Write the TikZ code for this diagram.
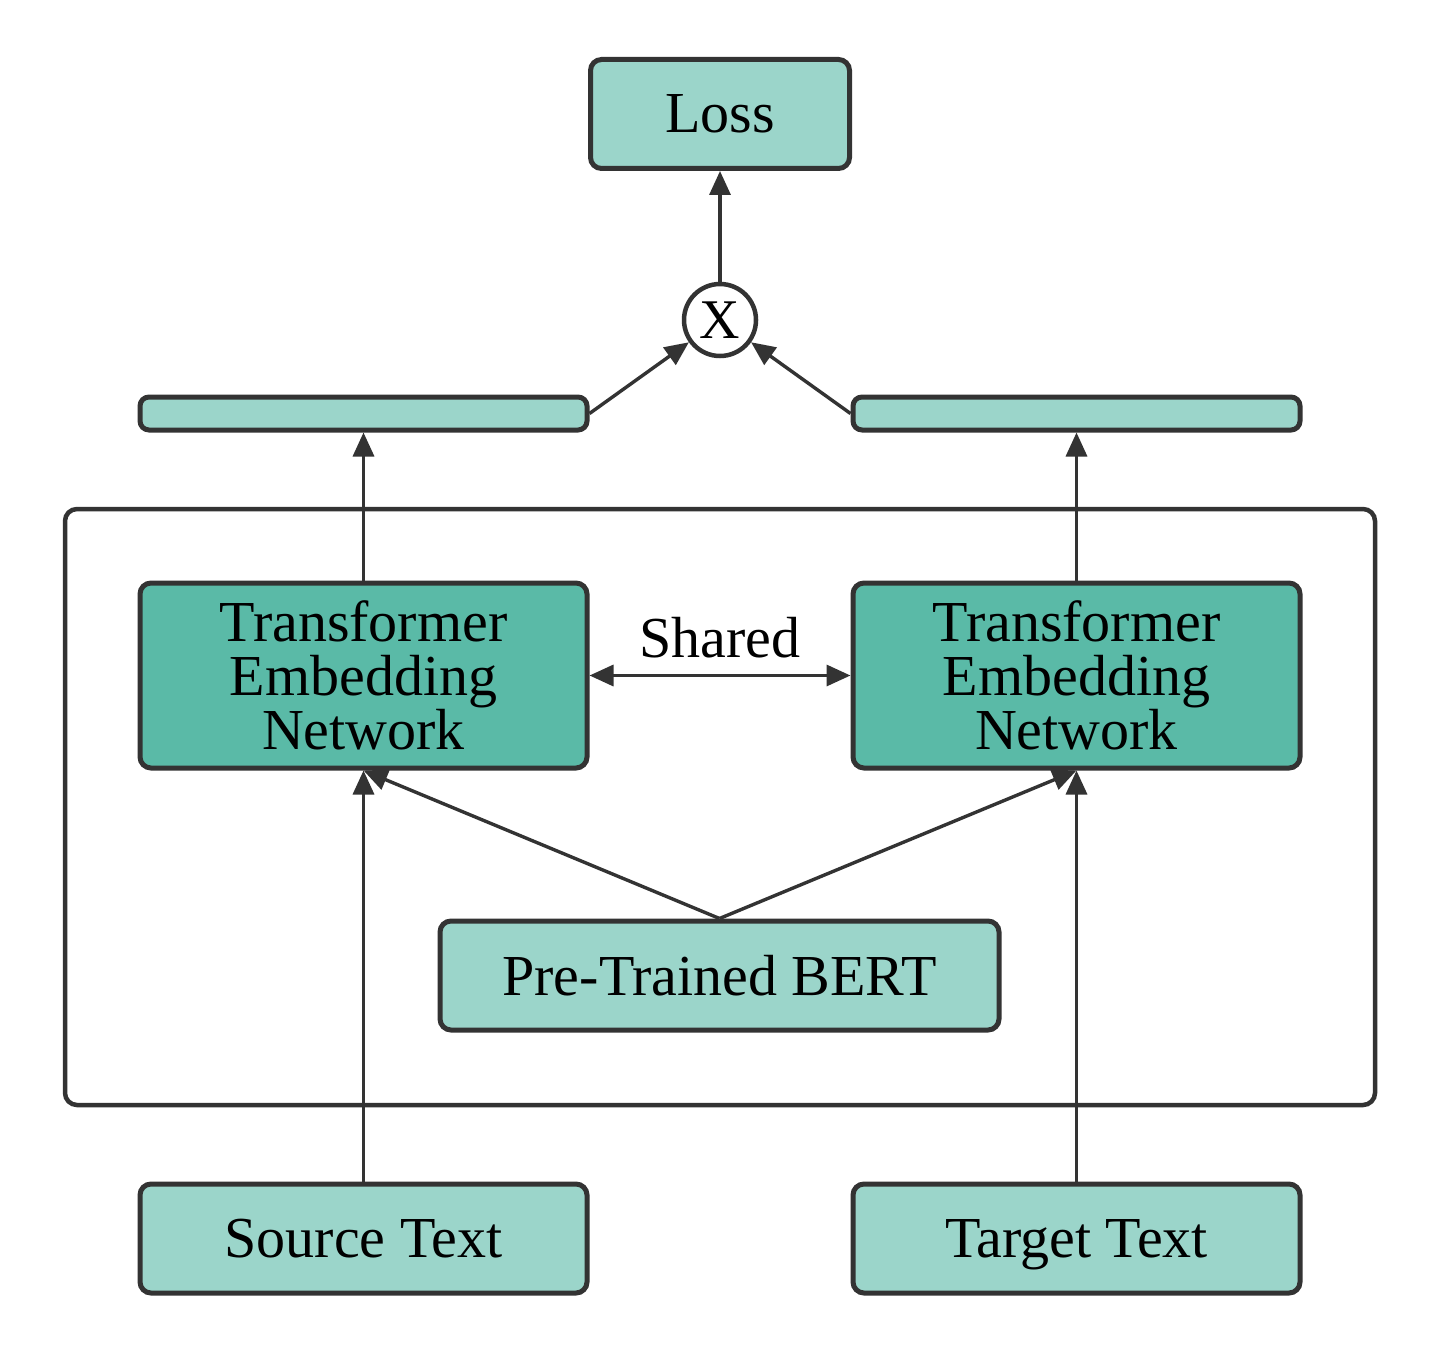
\documentclass[tikz,border=0pt]{standalone}
\usepackage{fontspec}
\setmainfont{Liberation Serif}
\usetikzlibrary{arrows.meta}
\definecolor{lightfill}{HTML}{9BD5CA}
\definecolor{darkfill}{HTML}{5ABAA7}
\definecolor{edge}{HTML}{333333}
\begin{document}
\begin{tikzpicture}[x=1pt,y=-1pt,
  box/.style={draw=edge, line width=5pt, rounded corners=11pt, fill=lightfill,
    inner sep=0pt, align=center, font=\fontsize{58}{54}\selectfont},
  onebox/.style={box, text depth=0pt},
  darkbox/.style={box, fill=darkfill},
  conn/.style={draw=edge, line width=3.4pt, -{Triangle[length=24pt,width=21pt]}},
  dconn/.style={draw=edge, line width=3.4pt, {Triangle[length=24pt,width=21pt]}-{Triangle[length=24pt,width=21pt]}}
]
\useasboundingbox (0,0) rectangle (1437,1356);
\fill[white] (0,0) rectangle (1437,1356);

% container
\node[draw=edge, line width=4.5pt, rounded corners=12pt, minimum width=1310pt, minimum height=596pt, inner sep=0pt] (cont) at (720,807) {};

\node[onebox, minimum width=259pt, minimum height=109pt] (loss) at (720,114) {Loss};
\node[circle, draw=edge, line width=4.5pt, fill=white, minimum size=72pt, inner sep=0pt,
  font=\fontsize{56}{56}\selectfont, text depth=0pt] (x) at (720,320) {X};

\node[box, minimum width=447pt, minimum height=33pt, rounded corners=9pt] (lbar) at (363.5,413.5) {};
\node[box, minimum width=447pt, minimum height=33pt, rounded corners=9pt] (rbar) at (1076.5,413.5) {};

\node[darkbox, minimum width=447pt, minimum height=185pt] (tenl) at (363.5,675.5) {Transformer\\Embedding\\Network};
\node[darkbox, minimum width=447pt, minimum height=185pt] (tenr) at (1076.5,675.5) {Transformer\\Embedding\\Network};

\node[onebox, minimum width=559pt, minimum height=109pt] (bert) at (719.5,975.5) {Pre-Trained BERT};

\node[onebox, minimum width=447pt, minimum height=109pt] (src) at (363.5,1238.5) {Source Text};
\node[onebox, minimum width=447pt, minimum height=109pt] (tgt) at (1076.5,1238.5) {Target Text};

% connectors
\draw[conn] (x.north) -- (loss.south);
\draw[conn] (lbar.east) -- (x);
\draw[conn] (rbar.west) -- (x);
\draw[conn] (tenl.north) -- (lbar.south);
\draw[conn] (tenr.north) -- (rbar.south);
\draw[dconn] (tenl.east) -- node[above=12pt, font=\fontsize{58}{54}\selectfont] (shared) {Shared} (tenr.west);
\draw[conn] (bert.north) -- (tenl.south);
\draw[conn] (bert.north) -- (tenr.south);
\draw[conn] (src.north) -- (tenl.south);
\draw[conn] (tgt.north) -- (tenr.south);
\end{tikzpicture}
\end{document}
